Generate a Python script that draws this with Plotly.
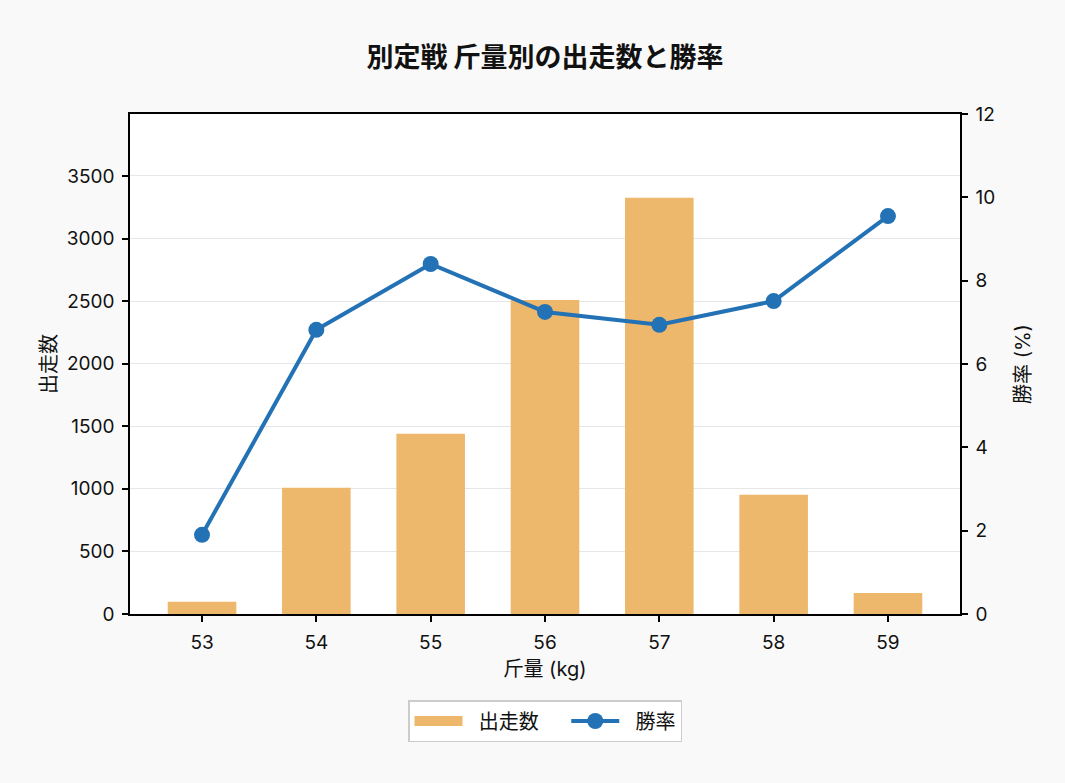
import plotly.graph_objects as go

weights = [53, 54, 55, 56, 57, 58, 59]
starters = [97, 1008, 1440, 2508, 3325, 952, 168]
win_rate = [1.90, 6.82, 8.40, 7.25, 6.94, 7.51, 9.55]
left_ticks = [0, 500, 1000, 1500, 2000, 2500, 3000, 3500]
right_ticks = [0, 2, 4, 6, 8, 10, 12]

CJK = "Noto Sans CJK JP"
MIX = "Inter, Noto Sans CJK JP"
BAR_COLOR = "#EDB86B"
LINE_COLOR = "#2372B5"
NB = "\u00a0"

fig = go.Figure()
fig.add_trace(go.Bar(
    x=weights, y=starters, name="出走数", width=0.6,
    marker=dict(color=BAR_COLOR, line=dict(width=0)),
    yaxis="y", showlegend=False,
))
# legend-only entry to draw the wide patch symbol for the bars
fig.add_trace(go.Scatter(
    x=[None], y=[None], name=NB * 2 + "出走数" + NB * 4, mode="lines",
    line=dict(color=BAR_COLOR, width=13),
    yaxis="y", showlegend=True, hoverinfo="skip",
))
fig.add_trace(go.Scatter(
    x=weights, y=win_rate, name=NB * 2 + "勝率", mode="lines+markers",
    line=dict(color=LINE_COLOR, width=4),
    marker=dict(color=LINE_COLOR, size=16),
    yaxis="y2",
))

axis_common = dict(
    showline=True, linecolor="black", linewidth=1.5,
    ticks="outside", ticklen=6, tickwidth=1.5, tickcolor="black",
    tickfont=dict(family=MIX, size=19, color="#111111"),
    ticklabelstandoff=4,
    zeroline=False,
)

fig.update_layout(
    width=1065, height=783,
    margin=dict(l=130, r=105, t=114, b=169),
    paper_bgcolor="#F9F9F9",
    plot_bgcolor="white",
    font=dict(family=MIX, size=20, color="#111111"),
    title=dict(
        text="<b>別定戦 斤量別の出走数と勝率</b>",
        x=0.5, xref="paper", xanchor="center",
        y=1 - 58 / 783, yref="container", yanchor="middle",
        font=dict(family=CJK, size=27, color="#111111"),
    ),
    xaxis=dict(
        **axis_common,
        range=[52.37, 59.63],
        tickmode="array", tickvals=weights, ticktext=[str(w) for w in weights],
        showgrid=False, mirror=True,
        title=dict(text="斤量 (kg)", font=dict(family=MIX, size=20), standoff=9),
    ),
    yaxis=dict(
        **axis_common,
        range=[0, 3995],
        tickmode="array", tickvals=left_ticks,
        showgrid=True, gridcolor="#E6E6E6", gridwidth=1,
        title=dict(text="出走数", font=dict(family=MIX, size=20), standoff=5),
    ),
    yaxis2=dict(
        **axis_common,
        overlaying="y", side="right",
        range=[0, 12],
        tickmode="array", tickvals=right_ticks,
        showgrid=False,
        title=dict(text="勝率 (%)", font=dict(family=MIX, size=20), standoff=22),
    ),
    legend=dict(
        orientation="h",
        x=0.5, xanchor="center",
        y=-0.172, yanchor="top",
        bgcolor="white", bordercolor="#CCCCCC", borderwidth=1.5,
        font=dict(family=MIX, size=20),
        itemwidth=48,
    ),
)

fig.write_html("out.html")
